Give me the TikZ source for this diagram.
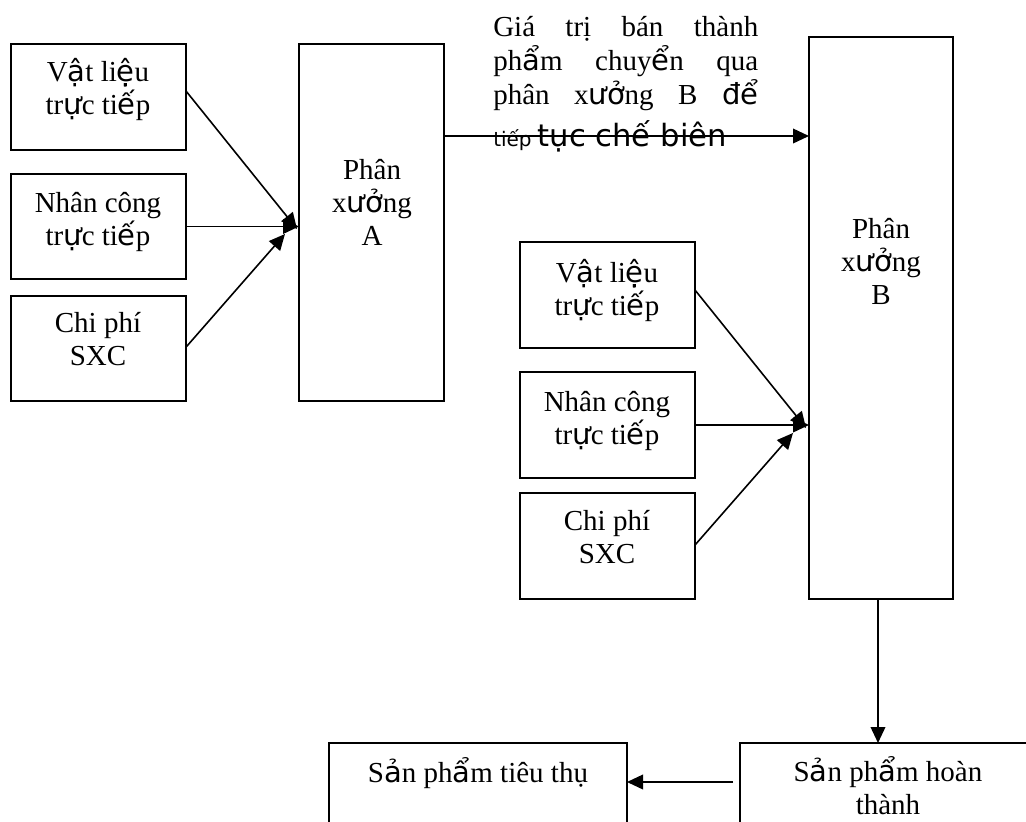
\documentclass[tikz,border=0pt]{standalone}
\usepackage{fontspec}
\setmainfont{Liberation Serif}
\newfontfamily\fbfont{DejaVu Sans}
\newfontfamily\fbraw{DejaVu Sans}
\newcommand\fbk[1]{{\fbfont #1}}
\newcommand\tstrut{\rule{0pt}{20pt}}
\usetikzlibrary{arrows.meta}
\def\px{0.75pt}
\begin{document}
\begin{tikzpicture}[x=0.75pt,y=-0.75pt,
  box/.style={draw, line width=1.4pt, anchor=north west, inner sep=0pt, outer sep=0pt},
  txt/.style={inner sep=0pt, align=center, anchor=north, yshift=20pt, font=\fontsize{21.75pt}{24.75pt}\selectfont},
  arr/.style={line width=1.2pt, -{Triangle[length=12pt,width=11pt]}}]
\useasboundingbox (0,0) rectangle (1026,822);
\clip (0,0) rectangle (1026,822);

% boxes
\node[box, minimum width=175*\px, minimum height=106*\px] (vA) at (11,44) {};
\node[box, minimum width=175*\px, minimum height=105*\px] (nA) at (11,174) {};
\node[box, minimum width=175*\px, minimum height=105*\px] (cA) at (11,296) {};
\node[box, minimum width=145*\px, minimum height=357*\px] (pA) at (299,44) {};
\node[box, minimum width=144*\px, minimum height=562*\px] (pB) at (809,37) {};
\node[box, minimum width=175*\px, minimum height=106*\px] (vB) at (520,242) {};
\node[box, minimum width=175*\px, minimum height=106*\px] (nB) at (520,372) {};
\node[box, minimum width=175*\px, minimum height=106*\px] (cB) at (520,493) {};
\node[box, minimum width=298*\px, minimum height=130*\px] (tt) at (329,743) {};
\node[box, minimum width=340*\px, minimum height=130*\px] (ht) at (740,743) {};

% texts
\node[txt] (vAt) at (98,81) {\tstrut V\fbk{ậ}t li\fbk{ệ}u\\tr\fbk{ự}c ti\fbk{ế}p};
\node[txt] (nAt) at (98,212) {\tstrut Nhân công\\tr\fbk{ự}c ti\fbk{ế}p};
\node[txt] (cAt) at (98,332) {\tstrut Chi phí\\SXC};
\node[txt] (pAt) at (372,179) {\tstrut Phân\\x\fbk{ưở}ng\\A};
\node[txt] (pBt) at (881,238) {\tstrut Phân\\x\fbk{ưở}ng\\B};
\node[txt] (vBt) at (607,282) {\tstrut V\fbk{ậ}t li\fbk{ệ}u\\tr\fbk{ự}c ti\fbk{ế}p};
\node[txt] (nBt) at (607,411) {\tstrut Nhân công\\tr\fbk{ự}c ti\fbk{ế}p};
\node[txt] (cBt) at (607,530) {\tstrut Chi phí\\SXC};
\node[txt] (ttt) at (478,782) {\tstrut S\fbk{ả}n ph\fbk{ẩ}m tiêu thụ};
\node[txt] (htt) at (888,781) {\tstrut S\fbk{ả}n ph\fbk{ẩ}m hoàn\\thành};
\node[txt, align=left, anchor=north west, font=\fontsize{21.75pt}{25.4pt}\selectfont] (note) at (493,36)
  {\tstrut\makebox[198.75pt][s]{Giá trị bán thành}\\
   \makebox[198.75pt][s]{ph\fbk{ẩ}m chuy\fbk{ể}n qua}\\
   \makebox[198.75pt][s]{phân x\fbk{ưở}ng B \fbk{để}}\\[6.5pt]
   {\fontsize{15pt}{16pt}\fbraw tiếp}\hspace{-1pt} {\fontsize{23pt}{24pt}\fbraw tục chế biên}};

% connector helpers
\coordinate (jA1) at (297,229);
\coordinate (jA3) at (285,234);
\coordinate (jB1) at (806,428);
\coordinate (jB3) at (793,433);
\coordinate (t1) at (0,136);
\coordinate (b1) at (733,782);

% connectors
\draw[arr] ([yshift=4.5pt]vA.east) -- (jA1);
\draw[arr] (nA.east) -- (nA.east -| pA.west);
\draw[arr] ([yshift=1pt]cA.east) -- (jA3);
\draw[arr] (pA.east |- t1) -- (pB.west |- t1);
\draw[arr] ([yshift=3.75pt]vB.east) -- (jB1);
\draw[arr] (nB.east) -- (nB.east -| pB.west);
\draw[arr] ([yshift=0.75pt]cB.east) -- (jB3);
\draw[arr] ([xshift=-2.25pt]pB.south) -- ([xshift=-2.25pt]pB.south |- ht.north);
\draw[arr] (b1) -- (b1 -| tt.east);
\end{tikzpicture}
\end{document}
